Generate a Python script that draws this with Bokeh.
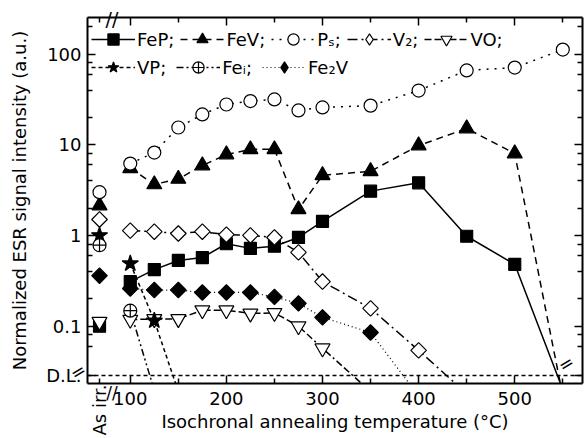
import math
from bokeh.plotting import figure
from bokeh.models import (FixedTicker, LinearAxis, LogAxis,
                          Legend, LegendItem, Span, Range1d)
from bokeh.embed import file_html
from bokeh.resources import INLINE

NaN = float("nan")

# ---------------- data ----------------
T = [100, 125, 150, 175, 200, 225, 250, 275, 300, 350, 400, 450, 500, 550]
AS_IRR = 68          # position used for the "As irr." points
DL = 0.0286          # detection limit level

# values below DL are only line continuations that leave the frame
FEP  = [0.31, 0.42, 0.53, 0.57, 0.81, 0.72, 0.76, 0.95, 1.43, 3.08, 3.8, 0.98, 0.48, 0.020]
FEV  = [5.5, 3.65, 4.2, 5.9, 7.8, 8.9, 8.9, 1.94, 4.6, 5.1, 9.8, 15.1, 8.0, 0.017]
PS   = [6.2, 8.2, 15.5, 21.6, 27.8, 30.3, 31.6, 23.9, 25.8, 27.0, 39.6, 66.0, 71.0, 112.0]
V2   = [1.13, 1.10, 1.05, 1.10, 1.02, 1.00, 0.95, 0.65, 0.31, 0.157, 0.054, 0.018, NaN, NaN]
VO   = [0.118, 0.12, 0.12, 0.15, 0.15, 0.138, 0.14, 0.10, 0.057, 0.019, NaN, NaN, NaN, NaN]
FE2V = [0.26, 0.25, 0.25, 0.235, 0.235, 0.235, 0.21, 0.178, 0.125, 0.085, 0.017, NaN, NaN, NaN]
VP   = [0.49, 0.115, 0.019, NaN, NaN, NaN, NaN, NaN, NaN, NaN, NaN, NaN, NaN, NaN]
FEI  = [0.148, 0.0195, NaN, NaN, NaN, NaN, NaN, NaN, NaN, NaN, NaN, NaN, NaN, NaN]

AS_IRR_VALUES = {"FeP": 0.10, "FeV": 2.14, "Ps": 3.0, "V2": 1.5,
                 "VO": 0.112, "Fe2V": 0.36, "VP": 1.0, "Fei": 0.78}

X_MIN, X_MAX = 55.5, 570.5
Y_MIN, Y_MAX = 0.0233, 253
X_TICKS = [100, 200, 300, 400, 500]
X_MINOR = [AS_IRR, 150, 250, 350, 450, 550]
Y_TICKS = [DL, 0.1, 1, 10, 100]
Y_LABELS = ["D.L.", "0.1", "1", "10", "100"]
Y_MINOR = [0.06, 0.08, 0.2, 0.4, 0.6, 0.8, 2, 4, 6, 8, 20, 40, 60, 80, 200]
X_BREAK = 81         # axis-break mark on the temperature axis
Y_BREAK = 0.035      # axis-break mark on the intensity axis

FONT = "DejaVu Sans"
FS = "18px"

p = figure(width=586, height=438, output_backend="svg", toolbar_location=None,
           y_axis_type="log", x_range=Range1d(X_MIN, X_MAX), y_range=Range1d(Y_MIN, Y_MAX),
           min_border_left=87, min_border_right=1, min_border_top=17, min_border_bottom=55)
p.xgrid.visible = False
p.ygrid.visible = False
p.outline_line_color = None
p.background_fill_color = "white"

# ---------------- axes ----------------
xt = FixedTicker(ticks=X_TICKS, minor_ticks=X_MINOR)
yt = FixedTicker(ticks=Y_TICKS, minor_ticks=Y_MINOR)

def style_axis(ax, labels=True):
    ax.axis_line_width = 2
    ax.axis_line_color = "black"
    ax.major_tick_line_color = "black"
    ax.minor_tick_line_color = "black"
    ax.major_tick_line_width = 1.5
    ax.minor_tick_line_width = 1.5
    ax.major_tick_in = 8
    ax.major_tick_out = 0
    ax.minor_tick_in = 5
    ax.minor_tick_out = 0
    ax.major_label_text_font = FONT
    ax.major_label_text_font_size = FS if labels else "1px"
    ax.major_label_text_color = "black"
    if not labels:
        ax.major_label_text_alpha = 0
        ax.major_label_standoff = 0
    ax.axis_label_text_font = FONT
    ax.axis_label_text_font_size = FS
    ax.axis_label_text_font_style = "normal"
    ax.axis_label_text_color = "black"

xa = p.xaxis[0]
xa.ticker = xt
xa.axis_label = "Isochronal annealing temperature (°C)"
style_axis(xa)
xa.major_label_standoff = 8
xa.axis_label_standoff = 3

ya = p.yaxis[0]
ya.ticker = yt
ya.axis_label = "Normalized ESR signal intensity (a.u.)"
ya.major_label_overrides = {t: s for t, s in zip(Y_TICKS, Y_LABELS)}
style_axis(ya)
ya.major_label_standoff = 6
ya.axis_label_standoff = 13

top = LinearAxis(ticker=xt)
style_axis(top, labels=False)
p.add_layout(top, "above")

right = LogAxis(ticker=yt)
style_axis(right, labels=False)
p.add_layout(right, "right")

# extra axes stacked outside the main ones (no line / ticks), carrying only texts;
# a negative standoff pulls their text back next to the frame
def text_axis(side, tick, text, orient, standoff, size):
    ax = LinearAxis(ticker=FixedTicker(ticks=[tick], minor_ticks=[]),
                    major_label_overrides={tick: text}, major_label_orientation=orient,
                    major_label_standoff=standoff, axis_line_color=None,
                    major_tick_line_color=None, minor_tick_line_color=None,
                    major_tick_in=0, major_tick_out=0, minor_tick_in=0, minor_tick_out=0,
                    major_label_text_font=FONT, major_label_text_font_size=size,
                    major_label_text_color="black")
    p.add_layout(ax, side)

text_axis("below", AS_IRR, "As irr.", math.pi / 2, -50, FS)
text_axis("below", X_BREAK, "//", "horizontal", -56, "17px")
text_axis("above", X_BREAK, "//", "horizontal", -12, "19px")
text_axis("left", Y_BREAK, "=", 0.55, -78, "18px")
text_axis("right", Y_BREAK, "=", 0.55, -23, "18px")

# detection limit line
p.add_layout(Span(location=DL, dimension="width", line_color="black",
                  line_dash="4 3", line_width=1.5))

# ---------------- series ----------------
series = [
    ("FeP",  FEP,  "FeP;",  "solid",        "square",            12, "black", 0),
    ("FeV",  FEV,  "FeV;",  "7 5",          "triangle",          15, "black", 0),
    ("Ps",   PS,   "Pₛ;",   "2 6",          "circle",            13, "white", 0),
    ("V2",   V2,   "V₂;",   "10 4 2 4",     "square",            11, "white", math.pi / 4),
    ("VO",   VO,   "VO;",   "7 3 7 3 2 3",  "inverted_triangle", 15, "white", 0),
    ("VP",   VP,   "VP;",   "4 3",          "star",              17, "black", 0),
    ("Fei",  FEI,  "Feᵢ;",  "7 3 2 3 2 3",  "circle_cross",      13, "white", 0),
    ("Fe2V", FE2V, "Fe₂V",  "1 3",          "square",            11, "black", math.pi / 4),
]

items = {}
line_rs = {}
for key, vals, label, dash, marker, size, fill, ang in series:
    lw = 1.2 if key == "Fe2V" else 1.5
    lr = p.line(T, vals, line_color="black", line_width=lw, line_dash=dash)
    line_rs[key] = lr

for key, vals, label, dash, marker, size, fill, ang in series:
    mx = [AS_IRR] + [t for t, v in zip(T, vals) if not math.isnan(v) and v > DL]
    my = [AS_IRR_VALUES[key]] + [v for v in vals if not math.isnan(v) and v > DL]
    rend = [line_rs[key]]
    if ang:
        # upright diamond under the rotated square: hidden in the plot, used as legend swatch
        proxy = p.scatter(mx, my, marker="diamond", size=size, fill_color=fill,
                          line_color="black", line_width=1.2)
        rend.append(proxy)
    sr = p.scatter(mx, my, marker=marker, size=size, fill_color=fill,
                   line_color="black", line_width=1.2, angle=ang)
    if not ang:
        rend.append(sr)
    items[key] = LegendItem(label=label, renderers=rend)

def make_legend(keys, vy, spacing):
    lg = Legend(items=[items[k] for k in keys], location=(4, vy), orientation="horizontal",
                glyph_width=44, glyph_height=28, label_standoff=2, spacing=spacing,
                padding=0, margin=0, label_text_font=FONT, label_text_font_size=FS,
                label_text_color="black",
                background_fill_alpha=0, border_line_alpha=0)
    p.add_layout(lg)

make_legend(["FeP", "FeV", "Ps", "V2", "VO"], 330, 6)
make_legend(["VP", "Fei", "Fe2V"], 302, 10)

open("out.html", "w").write(file_html(p, INLINE))
